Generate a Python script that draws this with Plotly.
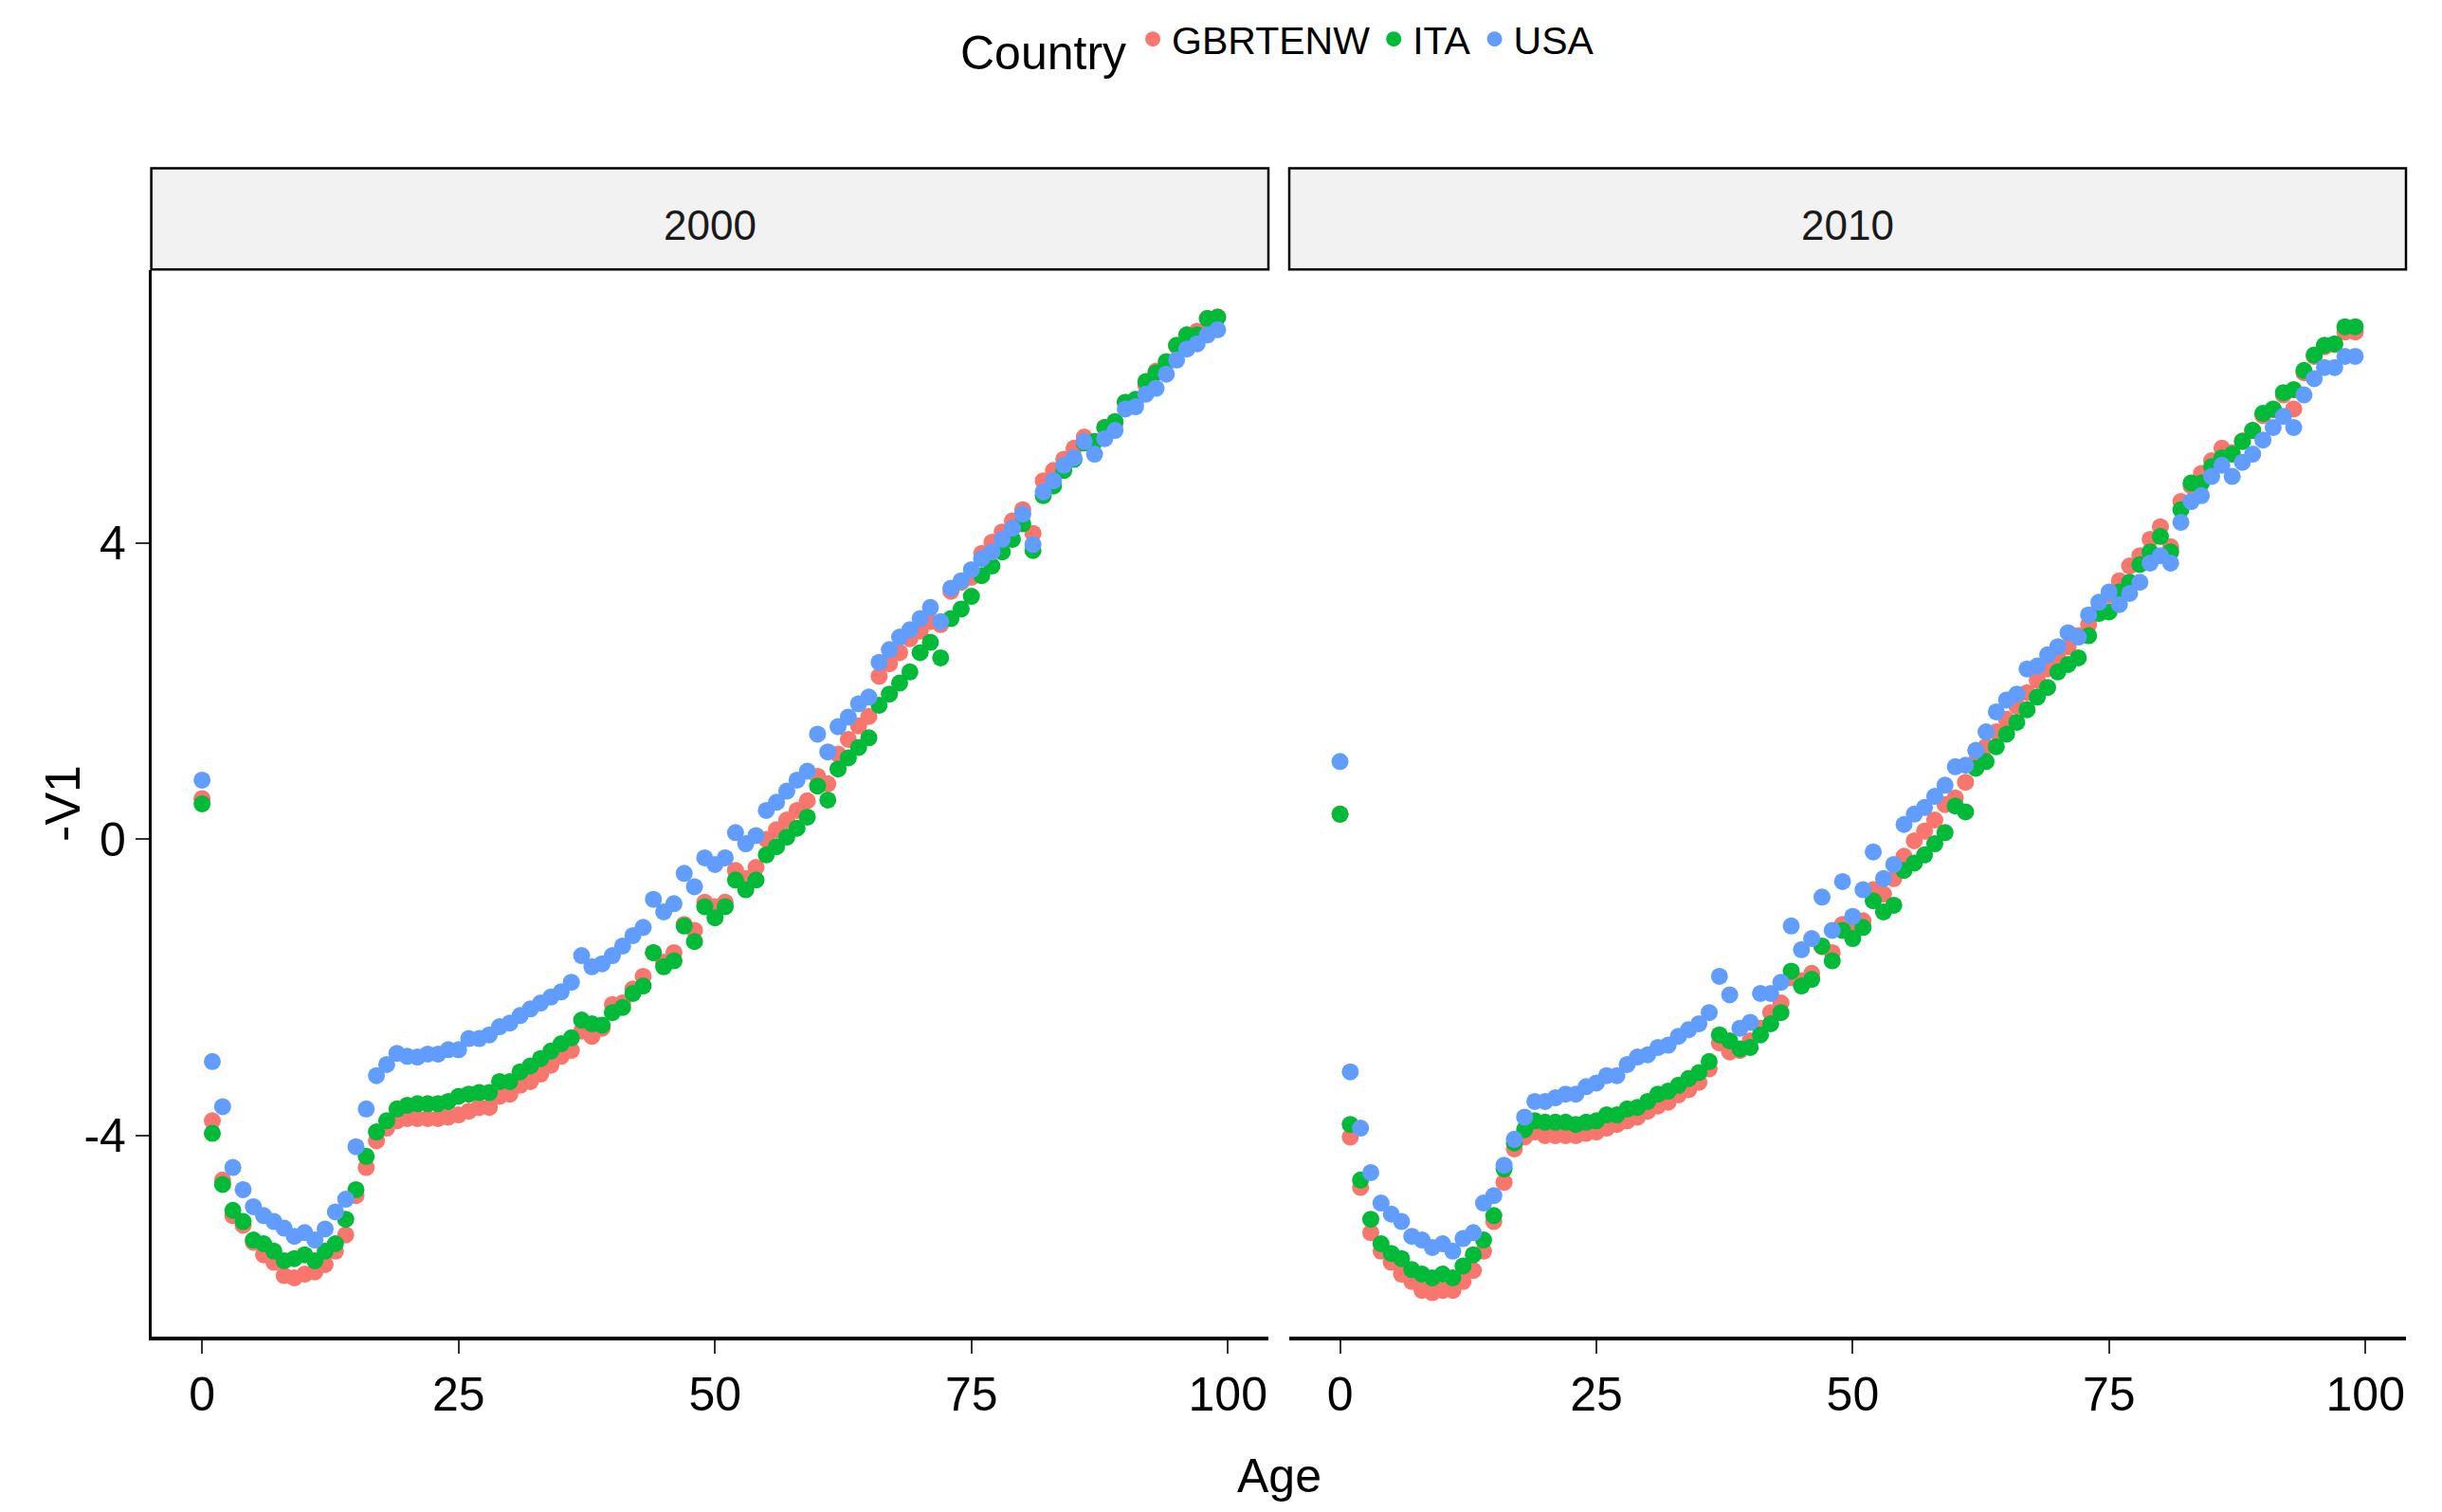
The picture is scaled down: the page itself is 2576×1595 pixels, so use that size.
import plotly.graph_objects as go

ages = list(range(100))

gbr_2000 = [0.55, -3.80, -4.60, -5.08, -5.21, -5.44, -5.61, -5.71, -5.89, -5.92,
            -5.87, -5.84, -5.74, -5.56, -5.34, -4.81, -4.43, -4.07, -3.90, -3.80,
            -3.77, -3.77, -3.77, -3.77, -3.75, -3.72, -3.67, -3.62, -3.62, -3.47,
            -3.44, -3.32, -3.27, -3.17, -3.05, -2.93, -2.85, -2.59, -2.66, -2.55,
            -2.23, -2.21, -2.02, -1.85, -1.53, -1.66, -1.53, -1.15, -1.23, -0.85,
            -0.91, -0.85, -0.42, -0.53, -0.38, 0.00, 0.13, 0.26, 0.39, 0.52,
            0.85, 0.75, 1.15, 1.35, 1.53, 1.66, 2.20, 2.37, 2.52, 2.71,
            2.81, 2.94, 2.90, 3.35, 3.47, 3.54, 3.86, 4.01, 4.15, 4.30,
            4.45, 4.13, 4.84, 4.98, 5.13, 5.28, 5.43, 5.37, 5.56, 5.62,
            5.90, 5.92, 6.13, 6.32, 6.43, 6.66, 6.81, 6.86, 7.03, 7.05]

ita_2000 = [0.48, -3.97, -4.66, -5.01, -5.16, -5.41, -5.46, -5.56, -5.69, -5.66,
            -5.61, -5.69, -5.56, -5.46, -5.13, -4.73, -4.28, -3.95, -3.80, -3.64,
            -3.59, -3.57, -3.57, -3.57, -3.54, -3.47, -3.44, -3.42, -3.42, -3.27,
            -3.27, -3.14, -3.06, -2.96, -2.86, -2.76, -2.68, -2.44, -2.49, -2.51,
            -2.34, -2.27, -2.08, -1.98, -1.53, -1.72, -1.64, -1.17, -1.38, -0.91,
            -1.06, -0.91, -0.55, -0.68, -0.55, -0.21, -0.10, 0.03, 0.15, 0.30,
            0.72, 0.53, 0.95, 1.10, 1.24, 1.37, 1.81, 1.96, 2.11, 2.26,
            2.52, 2.66, 2.45, 2.98, 3.11, 3.28, 3.56, 3.69, 3.88, 4.05,
            4.26, 3.90, 4.64, 4.77, 4.98, 5.13, 5.35, 5.37, 5.56, 5.64,
            5.90, 5.94, 6.18, 6.30, 6.45, 6.67, 6.81, 6.81, 7.03, 7.05]

usa_2000 = [0.80, -3.00, -3.61, -4.43, -4.73, -4.96, -5.08, -5.16, -5.25, -5.36,
            -5.31, -5.41, -5.26, -5.03, -4.86, -4.15, -3.64, -3.19, -3.04, -2.89,
            -2.93, -2.94, -2.90, -2.90, -2.84, -2.84, -2.69, -2.69, -2.64, -2.53,
            -2.48, -2.38, -2.29, -2.21, -2.13, -2.06, -1.93, -1.57, -1.72, -1.68,
            -1.57, -1.44, -1.30, -1.19, -0.81, -0.98, -0.87, -0.46, -0.64, -0.25,
            -0.34, -0.25, 0.09, -0.06, 0.05, 0.39, 0.50, 0.65, 0.80, 0.92,
            1.42, 1.18, 1.52, 1.65, 1.83, 1.92, 2.39, 2.56, 2.73, 2.83,
            2.98, 3.13, 2.94, 3.39, 3.49, 3.64, 3.79, 3.88, 4.05, 4.20,
            4.39, 3.98, 4.69, 4.84, 5.05, 5.15, 5.37, 5.20, 5.41, 5.52,
            5.81, 5.84, 6.01, 6.09, 6.28, 6.47, 6.62, 6.69, 6.81, 6.88]

gbr_2010 = [0.34, -4.02, -4.70, -5.31, -5.56, -5.71, -5.87, -5.97, -6.09, -6.12,
            -6.09, -6.09, -5.97, -5.82, -5.56, -5.16, -4.63, -4.18, -4.02, -3.95,
            -4.00, -4.00, -4.00, -4.00, -3.97, -3.95, -3.90, -3.85, -3.80, -3.75,
            -3.67, -3.60, -3.55, -3.45, -3.38, -3.28, -3.10, -2.75, -2.87, -2.85,
            -2.72, -2.55, -2.34, -2.21, -1.87, -1.91, -1.81, -1.45, -1.53, -1.15,
            -1.25, -1.10, -0.68, -0.74, -0.53, -0.23, -0.02, 0.11, 0.26, 0.47,
            0.56, 0.77, 1.05, 1.25, 1.45, 1.62, 1.80, 1.98, 2.15, 2.30,
            2.45, 2.60, 2.75, 2.90, 3.10, 3.30, 3.49, 3.69, 3.83, 4.05,
            4.22, 3.95, 4.56, 4.77, 4.94, 5.11, 5.28, 5.22, 5.38, 5.52,
            5.72, 5.80, 6.00, 5.81, 6.30, 6.52, 6.65, 6.68, 6.85, 6.85]

ita_2010 = [0.34, -3.85, -4.60, -5.13, -5.46, -5.59, -5.66, -5.81, -5.87, -5.92,
            -5.87, -5.92, -5.76, -5.61, -5.41, -5.08, -4.45, -4.10, -3.92, -3.80,
            -3.82, -3.82, -3.82, -3.85, -3.82, -3.80, -3.72, -3.72, -3.64, -3.62,
            -3.54, -3.44, -3.40, -3.32, -3.23, -3.15, -3.00, -2.64, -2.72, -2.83,
            -2.81, -2.64, -2.49, -2.34, -1.78, -1.98, -1.89, -1.44, -1.64, -1.23,
            -1.34, -1.19, -0.83, -0.98, -0.89, -0.42, -0.32, -0.21, -0.06, 0.09,
            0.45, 0.37, 0.96, 1.05, 1.25, 1.42, 1.58, 1.75, 1.92, 2.05,
            2.26, 2.36, 2.45, 2.75, 3.05, 3.07, 3.34, 3.47, 3.71, 3.88,
            4.09, 3.88, 4.45, 4.81, 4.81, 5.03, 5.15, 5.20, 5.37, 5.52,
            5.75, 5.81, 6.03, 6.07, 6.33, 6.54, 6.67, 6.69, 6.92, 6.92]

usa_2010 = [1.05, -3.14, -3.90, -4.50, -4.91, -5.06, -5.16, -5.36, -5.41, -5.51,
            -5.46, -5.56, -5.39, -5.31, -4.91, -4.81, -4.40, -4.05, -3.75, -3.54,
            -3.54, -3.49, -3.44, -3.44, -3.34, -3.29, -3.19, -3.19, -3.04, -2.94,
            -2.91, -2.81, -2.78, -2.66, -2.57, -2.49, -2.34, -1.85, -2.10, -2.55,
            -2.47, -2.08, -2.08, -1.93, -1.17, -1.49, -1.34, -0.78, -1.23, -0.57,
            -1.04, -0.68, -0.17, -0.53, -0.34, 0.20, 0.34, 0.43, 0.58, 0.73,
            0.98, 1.00, 1.20, 1.45, 1.72, 1.88, 1.96, 2.30, 2.34, 2.49,
            2.60, 2.79, 2.73, 3.03, 3.20, 3.34, 3.17, 3.32, 3.47, 3.73,
            3.83, 3.73, 4.28, 4.56, 4.64, 4.90, 5.05, 4.90, 5.09, 5.20,
            5.39, 5.56, 5.71, 5.56, 6.00, 6.22, 6.37, 6.37, 6.52, 6.52]

countries = ["GBRTENW", "ITA", "USA"]
years = ["2000", "2010"]
colors = ["#F8766D", "#00BA38", "#619CFF"]
x_ticks = [0, 25, 50, 75, 100]
y_ticks = [-4, 0, 4]
y_tick_text = ["-4", "0", "4"]

series = {
    "2000": [gbr_2000, ita_2000, usa_2000],
    "2010": [gbr_2010, ita_2010, usa_2010],
}

FONT = "Liberation Sans, Arial, sans-serif"
# page is 2576x1595; the html body has an 8px margin
OFF = 8
W, H = 2576 - 2 * OFF, 1595 - 2 * OFF

fig = go.Figure()
for pi, yr in enumerate(years):
    xa = "x" if pi == 0 else "x2"
    ya = "y" if pi == 0 else "y2"
    for ci, c in enumerate(countries):
        fig.add_trace(go.Scatter(
            x=ages, y=series[yr][ci], mode="markers", name=c,
            legendgroup=c, showlegend=(pi == 0),
            marker=dict(color=colors[ci], size=18, line=dict(width=0)),
            xaxis=xa, yaxis=ya, hoverinfo="x+y+name",
        ))

# panel geometry in page pixels
p1 = (159.6, 1338.0)
p2 = (1360.0, 2538.0)
ptop, pbot = 282.0, 1410.0
strip_top = 174.0


def fx(px):
    return (px - OFF) / W


def fy(py):
    return 1 - (py - OFF) / H


xr = [-4.95, 103.95]
yr_ = [-6.72, 7.68]

axis_common = dict(
    showgrid=False, zeroline=False, showline=True, linecolor="black",
    linewidth=3.5, ticks="outside", ticklen=14, tickwidth=2,
    tickcolor="#333333", tickfont=dict(family=FONT, size=50, color="black"),
    tickvals=x_ticks, range=xr,
)

fig.update_layout(
    width=W, height=H,
    margin=dict(l=0, r=0, t=0, b=0),
    paper_bgcolor="white", plot_bgcolor="white",
    font=dict(family=FONT, color="black"),
    xaxis=dict(domain=[fx(p1[0]), fx(p1[1])], anchor="y", **axis_common),
    xaxis2=dict(domain=[fx(p2[0]), fx(p2[1])], anchor="y2", **axis_common),
    yaxis=dict(domain=[fy(pbot), fy(ptop)], anchor="x", range=yr_,
               showgrid=False, zeroline=False, showline=True,
               linecolor="black", linewidth=2.5, ticks="outside",
               ticklen=14, tickwidth=2, tickcolor="#333333",
               tickvals=y_ticks, ticktext=y_tick_text,
               tickfont=dict(family=FONT, size=50, color="black")),
    yaxis2=dict(domain=[fy(pbot), fy(ptop)], anchor="x2", range=yr_,
                matches="y", showgrid=False, zeroline=False, showline=False,
                showticklabels=False, ticks=""),
    legend=dict(
        orientation="h", x=fx(1349), xanchor="center", y=fy(4), yanchor="top",
        title=dict(text="Country", side="left",
                   font=dict(family=FONT, size=50, color="black")),
        font=dict(family=FONT, size=41, color="black"),
        bgcolor="rgba(0,0,0,0)",
    ),
    showlegend=True,
)

shapes = []
annotations = []
for (x0, x1), yr in zip([p1, p2], years):
    shapes.append(dict(
        type="rect", xref="paper", yref="paper",
        x0=fx(x0), x1=fx(x1), y0=fy(ptop - 1), y1=fy(strip_top),
        fillcolor="#F2F2F2", line=dict(color="black", width=2.5), layer="below",
    ))
    annotations.append(dict(
        text=yr, xref="paper", yref="paper", x=fx((x0 + x1) / 2),
        y=fy(234), xanchor="center", yanchor="middle", showarrow=False,
        font=dict(family=FONT, size=44, color="#1A1A1A"),
    ))

annotations.append(dict(
    text="Age", xref="paper", yref="paper", x=fx(1349), y=0,
    xanchor="center", yanchor="bottom", showarrow=False,
    font=dict(family=FONT, size=50, color="black"),
))
annotations.append(dict(
    text="-V1", xref="paper", yref="paper", x=fx(66), y=fy(846),
    xanchor="center", yanchor="middle", showarrow=False, textangle=-90,
    font=dict(family=FONT, size=52, color="black"),
))

fig.update_layout(shapes=shapes, annotations=annotations)
fig.write_html("out.html")
